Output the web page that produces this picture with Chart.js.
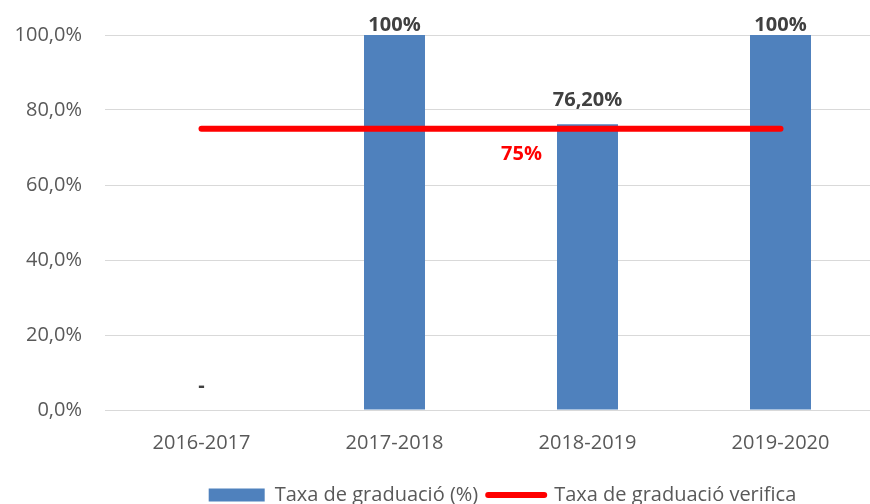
<!DOCTYPE html>
<html>
<head>
<meta charset="utf-8">
<script src="https://cdn.jsdelivr.net/npm/chart.js@4.4.0/dist/chart.umd.min.js"></script>
<style>
  html, body { margin: 0; padding: 0; background: #fff; overflow: hidden; }
  canvas { display: block; }
</style>
</head>
<body>
<canvas id="grafic" width="885" height="515"></canvas>
<script>
// dades llegides del gràfic
const cursos = ['2016-2017', '2017-2018', '2018-2019', '2019-2020'];
const taxaGraduacio = [0, 100, 76.2, 100];
const etiquetesTaxa = ['-', '100%', '76,20%', '100%'];
const taxaVerifica = [75, 75, 75, 75];
const etiquetaVerifica = '75%';
const ticksY = [0, 20, 40, 60, 80, 100];

const FONT = "'Open Sans', sans-serif";

const etiquetes = {
    id: 'etiquetes',
    afterLayout(chart) {
        // la llegenda de l'original no queda centrada al llenç
        chart.legend.left += 64;
        chart.legend.right += 64;
    },
    afterDatasetsDraw(chart) {
        const c = chart.ctx;
        const barres = chart.getDatasetMeta(0).data;
        const linia = chart.getDatasetMeta(1).data;
        c.save();
        c.font = "bold 20px " + FONT;
        c.textAlign = 'center';
        c.textBaseline = 'middle';
        c.fillStyle = '#404040';
        barres.forEach(function (b, i) {
            const y = Math.max(b.y - 24, chart.chartArea.top - 10);
            c.fillText(etiquetesTaxa[i], b.x, y);
        });
        c.fillStyle = '#ff0000';
        const p = linia[2];
        c.fillText(etiquetaVerifica, p.x - 66, p.y + 26);
        c.restore();
    }
};

new Chart(document.getElementById('grafic'), {
    type: 'bar',
    data: {
        labels: cursos,
        datasets: [{
            label: 'Taxa de graduació (%)',
            data: taxaGraduacio,
            backgroundColor: '#4f81bd',
            barPercentage: 0.316,
            categoryPercentage: 1,
            order: 1
        }, {
            type: 'line',
            label: 'Taxa de graduació verifica',
            data: taxaVerifica,
            borderColor: '#ff0000',
            backgroundColor: '#ff0000',
            borderWidth: 6,
            borderCapStyle: 'round',
            pointRadius: 0,
            tension: 0,
            order: 0
        }]
    },
    options: {
        responsive: false,
        animation: false,
        layout: { autoPadding: false, padding: { top: 33, left: 0, right: 8, bottom: 0 } },
        plugins: {
            tooltip: { enabled: false },
            legend: {
                position: 'bottom',
                labels: {
                    usePointStyle: true,
                    pointStyleWidth: 56,
                    boxHeight: 13,
                    padding: 10,
                    color: '#595959',
                    font: { family: FONT, size: 20 },
                    generateLabels(chart) {
                        return chart.data.datasets.map(function (ds, i) {
                            return {
                                text: ds.label,
                                fillStyle: ds.backgroundColor,
                                strokeStyle: i === 0 ? ds.backgroundColor : ds.borderColor,
                                lineWidth: i === 0 ? 0 : 6,
                                lineCap: 'round',
                                pointStyle: i === 0 ? 'rect' : 'line',
                                fontColor: '#595959',
                                hidden: false,
                                datasetIndex: i
                            };
                        });
                    }
                }
            }
        },
        scales: {
            x: {
                grid: { display: false, drawTicks: false },
                border: { display: false },
                ticks: { color: '#595959', font: { family: FONT, size: 20 }, padding: 21 },
                afterFit(scale) { scale.height = 65; }
            },
            y: {
                min: 0,
                max: 100,
                afterBuildTicks(scale) { scale.ticks = ticksY.map(v => ({ value: v })); },
                grid: { color: '#d9d9d9', lineWidth: 1, drawTicks: false },
                border: { display: false },
                ticks: {
                    color: '#595959',
                    font: { family: FONT, size: 20 },
                    padding: 23,
                    callback: function (v) { return v.toFixed(1).replace('.', ',') + '%'; }
                },
                afterFit(scale) { scale.width = 105; }
            }
        }
    },
    plugins: [etiquetes]
});
</script>
</body>
</html>
